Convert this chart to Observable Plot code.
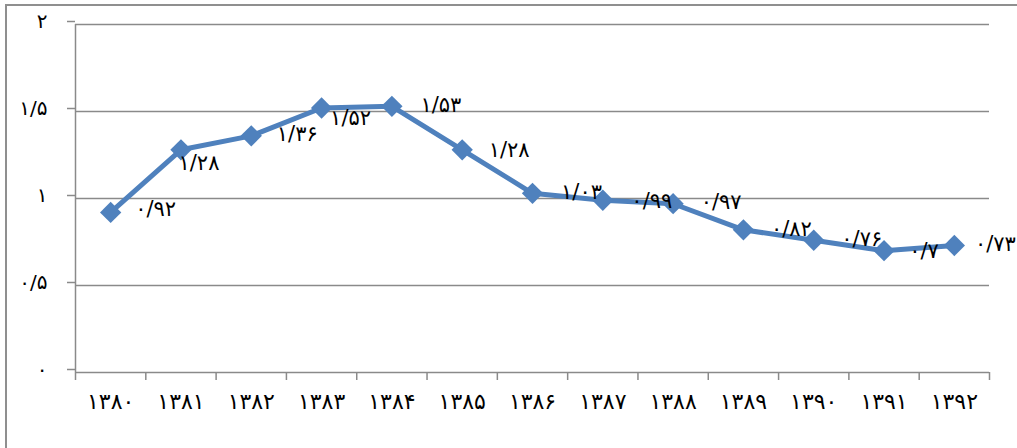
<!DOCTYPE html>
<html>
<head>
<meta charset="utf-8">
<script src="https://cdn.jsdelivr.net/npm/d3@7"></script>
<script src="https://cdn.jsdelivr.net/npm/@observablehq/plot@0.6"></script>
<style>
  html, body { margin: 0; padding: 0; background: #fff; }
  #wrap { position: relative; width: 1017px; height: 448px; overflow: hidden; }
  #border { position: absolute; left: 5px; top: 4px; right: -10px; bottom: -10px;
            border-top: 2px solid #8f8f8f; border-left: 2px solid #8f8f8f; pointer-events: none; }
  svg { display: block; }
</style>
</head>
<body>
<div id="wrap"><div id="border"></div></div>
<script>
// Data
const years = ["1380","1381","1382","1383","1384","1385","1386","1387","1388","1389","1390","1391","1392"];
const values = [0.92, 1.28, 1.36, 1.52, 1.53, 1.28, 1.03, 0.99, 0.97, 0.82, 0.76, 0.70, 0.73];
const yTicks = [0, 0.5, 1, 1.5, 2];

// label placement nudges (pixels), separate from the data
const labelDx = [45, 18, 46, 29, 49, 47, 49, 49, 48, 48, 48, 40, 41];
const labelDy = [-3, 13, -2, 10, -1, 0, -1, 1, -1, -1, -1, 1, -1];

const faDigits = "۰۱۲۳۴۵۶۷۸۹";
const toFa = s => String(s).replace(/[0-9]/g, d => faDigits[+d]).replace(/\./g, "/");
const fmt = v => toFa(String(+v.toFixed(2)));

const data = years.map((y, i) => ({i, year: y, value: values[i]}));
const idx = d3.range(years.length);
const bounds = d3.range(years.length + 1).map(k => k - 0.5);

const font = "'DejaVu Sans', 'Noto Sans', sans-serif";
const grid = "#8a8a8a";
const blue = "#4f81bd";

const labelMarks = data.map((d, k) =>
  Plot.text([d], {x: "i", y: "value", text: e => fmt(e.value), dx: labelDx[k], dy: labelDy[k],
    fontSize: 21, fill: "#000"}));

const chart = Plot.plot({
  width: 1017,
  height: 448,
  marginTop: 24,
  marginBottom: 76,
  marginLeft: 75,
  marginRight: 28,
  style: {fontFamily: font, fontSize: "21px", color: "#000", background: "transparent"},
  x: {type: "linear", domain: [-0.5, years.length - 0.5]},
  y: {domain: [0, 2]},
  marks: [
    Plot.ruleY(yTicks, {stroke: grid, strokeWidth: 1.5}),
    Plot.ruleX([-0.5], {y1: 0, y2: 2, stroke: grid, strokeWidth: 1.5}),
    Plot.axisY(yTicks, {tickFormat: d => toFa(d), tickSize: 8, stroke: grid, strokeWidth: 1.5,
      tickPadding: 20, fontSize: 20, dy: -3, label: null}),
    Plot.axisX(bounds, {tickFormat: () => "", tickSize: 8, stroke: grid, strokeWidth: 1.5, label: null}),
    Plot.axisX(idx, {tickFormat: k => toFa(years[k]), tickSize: 0, tickPadding: 21, fontSize: 22, label: null}),
    Plot.line(data, {x: "i", y: "value", stroke: blue, strokeWidth: 5}),
    Plot.dot(data, {x: "i", y: "value", symbol: "square", r: 8.5, rotate: 45, fill: blue, stroke: "none"}),
    ...labelMarks
  ]
});
document.getElementById("wrap").prepend(chart);
</script>
</body>
</html>
